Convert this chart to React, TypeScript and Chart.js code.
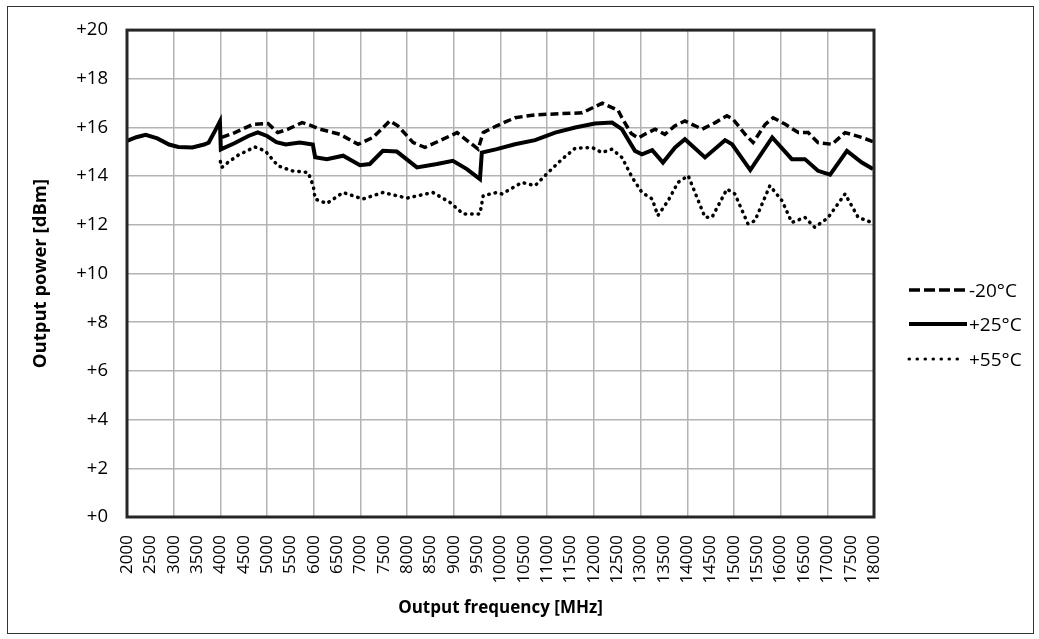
import React, { useEffect, useRef } from "react";
import { Chart, registerables } from "chart.js";

Chart.register(...registerables);

// +25°C (solid)
const freq25 = [2000, 2200, 2400, 2650, 2900, 3100, 3400, 3650, 3750, 3885, 3990, 4010, 4300, 4600, 4800, 5000, 5200, 5400, 5700, 5980, 6030, 6280, 6630, 6990, 7200, 7480, 7780, 8210, 8640, 8980, 9280, 9560, 9600, 9920, 10310, 10740, 11170, 11600, 12020, 12390, 12600, 12880, 13030, 13250, 13480, 13740, 13950, 14380, 14810, 14960, 15350, 15820, 16240, 16520, 16800, 17060, 17420, 17740, 17980];
const power25 = [15.45, 15.6, 15.7, 15.55, 15.3, 15.2, 15.18, 15.3, 15.38, 15.86, 16.25, 15.1, 15.35, 15.65, 15.8, 15.65, 15.4, 15.3, 15.38, 15.3, 14.78, 14.7, 14.84, 14.45, 14.5, 15.04, 15.01, 14.36, 14.5, 14.63, 14.29, 13.88, 14.97, 15.11, 15.31, 15.48, 15.79, 16.0, 16.16, 16.2, 15.93, 15.04, 14.9, 15.07, 14.56, 15.18, 15.52, 14.77, 15.48, 15.31, 14.25, 15.59, 14.7, 14.7, 14.22, 14.06, 15.04, 14.56, 14.29];

// -20°C (dashed)
const freqM20 = [4030, 4310, 4700, 5020, 5230, 5450, 5750, 5960, 6130, 6560, 6950, 7270, 7630, 7800, 8130, 8380, 8770, 9070, 9520, 9630, 9920, 10310, 10740, 11320, 11750, 12180, 12520, 12600, 12800, 12950, 13090, 13310, 13520, 13740, 13950, 14320, 14600, 14850, 14980, 15240, 15410, 15670, 15840, 16100, 16380, 16590, 16800, 17100, 17380, 17740, 17980];
const powerM20 = [15.59, 15.79, 16.13, 16.16, 15.79, 15.93, 16.2, 16.07, 15.93, 15.72, 15.31, 15.59, 16.27, 16.07, 15.38, 15.18, 15.52, 15.79, 15.11, 15.79, 16.07, 16.4, 16.52, 16.57, 16.6, 17.0, 16.7, 16.4, 15.75, 15.57, 15.72, 15.93, 15.72, 16.07, 16.27, 15.93, 16.2, 16.48, 16.34, 15.72, 15.38, 16.13, 16.4, 16.13, 15.79, 15.79, 15.38, 15.31, 15.79, 15.59, 15.42];

// +55°C (dotted)
const freq55 = [4000, 4030, 4160, 4380, 4740, 4960, 5230, 5530, 5880, 5990, 6030, 6280, 6630, 7050, 7480, 8000, 8550, 8920, 9200, 9560, 9630, 9920, 10030, 10460, 10740, 11020, 11320, 11600, 11960, 12170, 12390, 12600, 12820, 13030, 13250, 13370, 13590, 13800, 14020, 14380, 14530, 14850, 15020, 15300, 15450, 15770, 16030, 16240, 16520, 16730, 17010, 17380, 17660, 17950];
const power55 = [14.6, 14.36, 14.56, 14.86, 15.2, 15.04, 14.43, 14.22, 14.15, 13.6, 13.06, 12.88, 13.33, 13.06, 13.33, 13.1, 13.33, 12.92, 12.45, 12.45, 13.2, 13.33, 13.27, 13.74, 13.61, 14.15, 14.7, 15.15, 15.18, 14.97, 15.11, 14.77, 13.95, 13.33, 13.06, 12.38, 12.99, 13.74, 14.02, 12.31, 12.31, 13.47, 13.27, 12.04, 12.17, 13.61, 12.99, 12.1, 12.31, 11.9, 12.28, 13.27, 12.31, 12.1];

const seriesNames = ["-20°C", "+25°C", "+55°C"];

const FONT = "'Open Sans', 'Liberation Sans', sans-serif";

const toPoints = (xs: number[], ys: number[]) => xs.map((x, i) => ({ x, y: ys[i] }));

const frame = {
  id: "plotFrame",
  afterDatasetsDraw(chart: any) {
    const { ctx, chartArea } = chart;
    ctx.save();
    ctx.strokeStyle = "#262626";
    ctx.lineWidth = 3;
    ctx.strokeRect(chartArea.left, chartArea.top, chartArea.right - chartArea.left, chartArea.bottom - chartArea.top);
    ctx.restore();
  },
};

export default function App() {
  const ref = useRef<HTMLCanvasElement | null>(null);

  useEffect(() => {
    document.body.style.margin = "0";
    const canvas = ref.current;
    if (!canvas) return;
    const chart = new Chart(canvas, {
      type: "line",
      data: {
        datasets: [
          {
            label: seriesNames[0],
            data: toPoints(freqM20, powerM20),
            borderColor: "#000",
            borderWidth: 3.5,
            borderDash: [8, 4],
            pointRadius: 0,
            tension: 0,
          },
          {
            label: seriesNames[1],
            data: toPoints(freq25, power25),
            borderColor: "#000",
            borderWidth: 4,
            pointRadius: 0,
            tension: 0,
          },
          {
            label: seriesNames[2],
            data: toPoints(freq55, power55),
            borderColor: "#000",
            borderWidth: 3.5,
            borderDash: [0.5, 6],
            borderCapStyle: "round",
            pointRadius: 0,
            tension: 0,
          },
        ],
      },
      options: {
        animation: false,
        responsive: false,
        maintainAspectRatio: false,
        layout: { padding: { left: 0, top: 29, right: 165, bottom: 0 } },
        plugins: { legend: { display: false }, tooltip: { enabled: false } },
        scales: {
          x: {
            type: "linear",
            min: 2000,
            max: 18000,
            afterFit: (s: any) => { s.height = 122; },
            ticks: {
              stepSize: 500,
              autoSkip: false,
              maxRotation: 90,
              minRotation: 90,
              padding: 18,
              color: "#000",
              font: { family: FONT, size: 17 },
              callback: (v: any) => String(v),
            },
            grid: {
              drawTicks: false,
              color: (c: any) => (c.tick && c.tick.value % 1000 === 0 ? "#b3b3b3" : "rgba(0,0,0,0)"),
              lineWidth: 1.5,
            },
            border: { display: false },
            title: {
              display: true,
              text: "Output frequency [MHz]",
              color: "#000",
              font: { family: FONT, size: 17, weight: "bold" },
              padding: { top: 0, bottom: 21 },
            },
          },
          y: {
            min: 0,
            max: 20,
            afterFit: (s: any) => { s.width = 127; },
            ticks: {
              stepSize: 2,
              padding: 19,
              color: "#000",
              font: { family: FONT, size: 18.5 },
              callback: (v: any) => "+" + v,
            },
            grid: { drawTicks: false, color: "#b3b3b3", lineWidth: 1.5 },
            border: { display: false },
            title: {
              display: true,
              text: "Output power [dBm]",
              color: "#000",
              font: { family: FONT, size: 18.5, weight: "bold" },
              padding: { top: 30, bottom: 0 },
            },
          },
        },
      },
      plugins: [frame],
    });
    return () => chart.destroy();
  }, []);

  const legendRow = (top: number, dash: string, width: number, cap: "butt" | "round", label: string, lineEnd: number) => (
    <div style={{ position: "absolute", left: 907, top: top - 15, height: 30, display: "flex", alignItems: "center" }}>
      <svg width={62} height={10} style={{ display: "block" }}>
        <line x1={2} y1={5} x2={lineEnd} y2={5} stroke="#000" strokeWidth={width} strokeDasharray={dash} strokeLinecap={cap} />
      </svg>
      <span style={{ fontFamily: FONT, fontSize: 19, color: "#000", lineHeight: "30px" }}>{label}</span>
    </div>
  );

  return (
    <div style={{ position: "relative", width: 1039, height: 639, background: "#fff" }}>
      <canvas ref={ref} width={1039} height={639} style={{ display: "block" }} />
      <div style={{ position: "absolute", left: 7, top: 6, width: 1025, height: 626, border: "1px solid #333", pointerEvents: "none" }} />
      {legendRow(290, "11 4", 3.5, "butt", seriesNames[0], 60)}
      {legendRow(324, "", 4, "butt", seriesNames[1], 60)}
      {legendRow(359, "0.5 7.5", 3, "round", seriesNames[2], 52)}
    </div>
  );
}
